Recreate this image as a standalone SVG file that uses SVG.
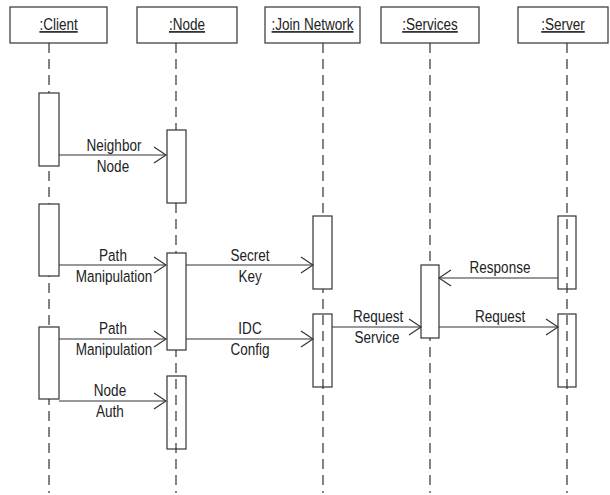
<svg xmlns="http://www.w3.org/2000/svg" width="610" height="495" viewBox="0 0 610 495">
<style>
.hdr{fill:#fff;stroke:#333;stroke-width:1.2}
.life{stroke:#333;stroke-width:1.2;stroke-dasharray:10,6;fill:none}
.act{fill:#fff;stroke:#333;stroke-width:1.2}
.actt{fill:none;stroke:#333;stroke-width:1.2}
.msg{stroke:#333;stroke-width:1.2;fill:none;marker-end:url(#open)}
text{font-family:"Liberation Sans",Arial,sans-serif;font-size:16.5px;fill:#222;text-anchor:middle;transform-box:fill-box;transform-origin:center;transform:scaleX(0.82)}
.u{text-decoration:underline}
</style>
<defs>
<marker id="open" viewBox="0 0 14 18" refX="13" refY="9" markerWidth="14" markerHeight="18" markerUnits="userSpaceOnUse" orient="auto">
<path d="M1,1 L13,9 L1,17" fill="none" stroke="#333" stroke-width="1.2"/>
</marker>
</defs>
<g id="lifelines">
<line class="life" x1="49" y1="43" x2="49" y2="493"/>
<line class="life" x1="176" y1="43" x2="176" y2="493"/>
<line class="life" x1="323" y1="43" x2="323" y2="493"/>
<line class="life" x1="430" y1="43" x2="430" y2="493"/>
<line class="life" x1="567" y1="43" x2="567" y2="493"/>
</g>
<g id="client">
<rect class="hdr" x="10" y="7" width="97" height="36"/>
<text class="u" x="58.5" y="30">:Client</text>
<rect class="act" x="39" y="93" width="20" height="73"/>
<rect class="act" x="39" y="204" width="20" height="72"/>
<rect class="act" x="39" y="327" width="20" height="72"/>
</g>
<g id="node">
<rect class="hdr" x="137" y="7" width="100" height="36"/>
<text class="u" x="187" y="30">:Node</text>
<rect class="act" x="167" y="130" width="19" height="73"/>
<rect class="act" x="167" y="253" width="19" height="97"/>
<rect class="actt" x="167" y="376" width="19" height="73"/>
</g>
<g id="joinnetwork">
<rect class="hdr" x="265" y="7" width="95" height="36"/>
<text class="u" x="312.5" y="30">:Join Network</text>
<rect class="act" x="313" y="216" width="19" height="73"/>
<rect class="actt" x="313" y="314" width="19" height="73"/>
</g>
<g id="services">
<rect class="hdr" x="381" y="7" width="98" height="36"/>
<text class="u" x="430" y="30">:Services</text>
<rect class="act" x="421" y="265" width="18" height="73"/>
</g>
<g id="server">
<rect class="hdr" x="518" y="7" width="90" height="36"/>
<text class="u" x="563" y="30">:Server</text>
<rect class="actt" x="558" y="216" width="18" height="73"/>
<rect class="actt" x="558" y="314" width="18" height="73"/>
</g>
<g id="connectors">
<line class="msg" x1="59" y1="155" x2="166" y2="155"/>
<line class="msg" x1="59" y1="265" x2="166" y2="265"/>
<line class="msg" x1="186" y1="265" x2="313" y2="265"/>
<line class="msg" x1="558" y1="278" x2="439" y2="278"/>
<line class="msg" x1="59" y1="339" x2="166" y2="339"/>
<line class="msg" x1="186" y1="339" x2="313" y2="339"/>
<line class="msg" x1="332" y1="327" x2="421" y2="327"/>
<line class="msg" x1="439" y1="327" x2="558" y2="327"/>
<line class="msg" x1="59" y1="401" x2="166" y2="401"/>
</g>
<g id="labels">
<text x="114" y="151">Neighbor</text>
<text x="113" y="172">Node</text>
<text x="113" y="261">Path</text>
<text x="114" y="282">Manipulation</text>
<text x="250" y="261">Secret</text>
<text x="250" y="282">Key</text>
<text x="500" y="273">Response</text>
<text x="113" y="334">Path</text>
<text x="114" y="355">Manipulation</text>
<text x="250" y="334">IDC</text>
<text x="250" y="355">Config</text>
<text x="378" y="322">Request</text>
<text x="377" y="343">Service</text>
<text x="500" y="322">Request</text>
<text x="110" y="396">Node</text>
<text x="110" y="417">Auth</text>
</g>
</svg>
